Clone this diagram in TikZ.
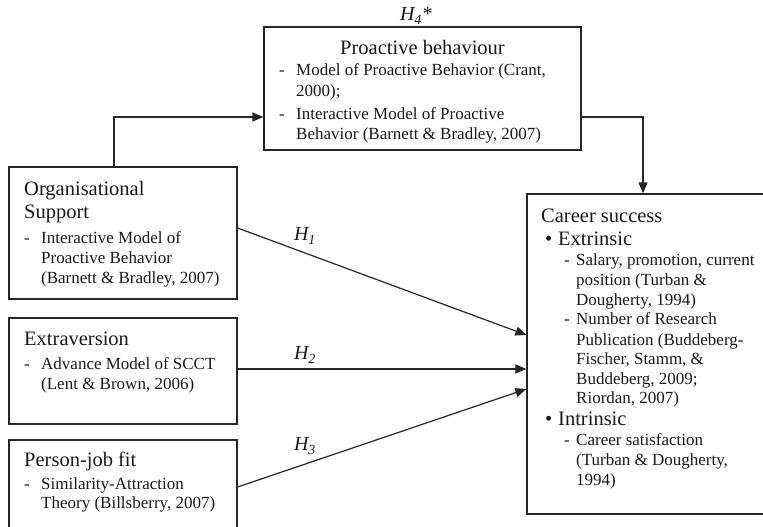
\documentclass[tikz,border=0pt]{standalone}
\usepackage{fontspec}
\setmainfont{Liberation Serif}
\usetikzlibrary{arrows.meta,calc}
\tikzset{
  box/.style={draw=black!85, line width=1.2pt, rectangle, inner sep=0pt},
  head/.style={font=\fontsize{20.5}{24}\selectfont, text=black!90, inner sep=0pt, anchor=base west},
  body/.style={font=\fontsize{17}{20}\selectfont, text=black!90, inner sep=0pt, anchor=base west},
  hyp/.style={font=\fontsize{20}{24}\selectfont\itshape, text=black!90, inner sep=0pt},
  conn/.style={draw=black!85, line width=1.2pt, -{Triangle[length=11pt,width=9pt]}},
}
\newcommand\HL[4]{\node[head] (#1) at (#2,#3) {#4};}
\newcommand\BL[4]{\node[body] (#1) at (#2,#3) {#4};}
\begin{document}
\begin{tikzpicture}[x=1pt,y=-1pt]
\useasboundingbox (0,0) rectangle (763,527);
\clip (0,0) rectangle (763,527);
% boxes
\node[box, minimum width=317pt, minimum height=123pt] (pro) at (422.5,88.5) {};
\node[box, minimum width=228pt, minimum height=132pt] (org) at (123,233) {};
\node[box, minimum width=228pt, minimum height=106pt] (ext) at (123,371) {};
\node[box, minimum width=228pt, minimum height=120pt] (pj) at (123,500) {};
\node[box, minimum width=253pt, minimum height=320pt] (car) at (653.5,354) {};
% proactive text
\node[hyp] (h4) at (416,16) {H\textsubscript{4}*};
\node[head, anchor=base] (p0) at (422.5,55) {Proactive behaviour};
\BL{p1}{279}{76}{-}
\BL{p2}{296}{76}{Model of Proactive Behavior (Crant,}
\BL{p3}{296}{96}{2000);}
\BL{p4}{279}{119}{-}
\BL{p5}{296}{119}{Interactive Model of Proactive}
\BL{p6}{296}{139}{Behavior (Barnett \& Bradley, 2007)}
% organisational support
\HL{o1}{24}{195}{Organisational}
\HL{o2}{24}{218}{Support}
\BL{o3}{24}{243}{-}
\BL{o4}{41}{243}{Interactive Model of}
\BL{o5}{41}{263}{Proactive Behavior}
\BL{o6}{41}{283}{(Barnett \& Bradley, 2007)}
% extraversion
\HL{e1}{24}{345}{Extraversion}
\BL{e2}{24}{369}{-}
\BL{e3}{41}{369}{Advance Model of SCCT}
\BL{e4}{41}{389}{(Lent \& Brown, 2006)}
% person-job fit
\HL{j1}{24}{466}{Person-job fit}
\BL{j2}{24}{489}{-}
\BL{j3}{41}{489}{Similarity-Attraction}
\BL{j4}{41}{508}{Theory (Billsberry, 2007)}
% career success
\HL{c1}{541}{222}{Career success}
\HL{c2}{545}{245}{\textbullet}
\HL{c3}{558}{245}{Extrinsic}
\BL{c4}{564}{265}{-}
\BL{c5}{576}{265}{Salary, promotion, current}
\BL{c6}{576}{285}{position (Turban \&}
\BL{c7}{576}{305}{Dougherty, 1994)}
\BL{c8}{564}{324}{-}
\BL{c9}{576}{324}{Number of Research}
\BL{c10}{576}{345}{Publication (Buddeberg-}
\BL{c11}{576}{364}{Fischer, Stamm, \&}
\BL{c12}{576}{384}{Buddeberg, 2009;}
\BL{c13}{576}{403}{Riordan, 2007)}
\HL{c14}{545}{425}{\textbullet}
\HL{c15}{558}{425}{Intrinsic}
\BL{c16}{564}{445}{-}
\BL{c17}{576}{445}{Career satisfaction}
\BL{c18}{576}{465}{(Turban \& Dougherty,}
\BL{c19}{576}{485}{1994)}
% connectors
\draw[conn] ([xshift=-9pt]org.north) |- ([yshift=-28.5pt]pro.west);
\draw[conn] ([yshift=-28.5pt]pro.east) -| ([xshift=-10.5pt]car.north);
\draw[conn] ([yshift=5pt]org.east) -- ([yshift=19pt]car.west);
\draw[conn] ([yshift=2pt]ext.east) coordinate (h2s) -- (car.west |- h2s);
\draw[conn] ([yshift=13pt]pj.east) -- ([yshift=-35pt]car.west);
% hypothesis labels
\node[hyp] (h1) at (305,236) {H\textsubscript{1}};
\node[hyp] (h2) at (305,355) {H\textsubscript{2}};
\node[hyp] (h3) at (305,446) {H\textsubscript{3}};
\end{tikzpicture}
\end{document}
